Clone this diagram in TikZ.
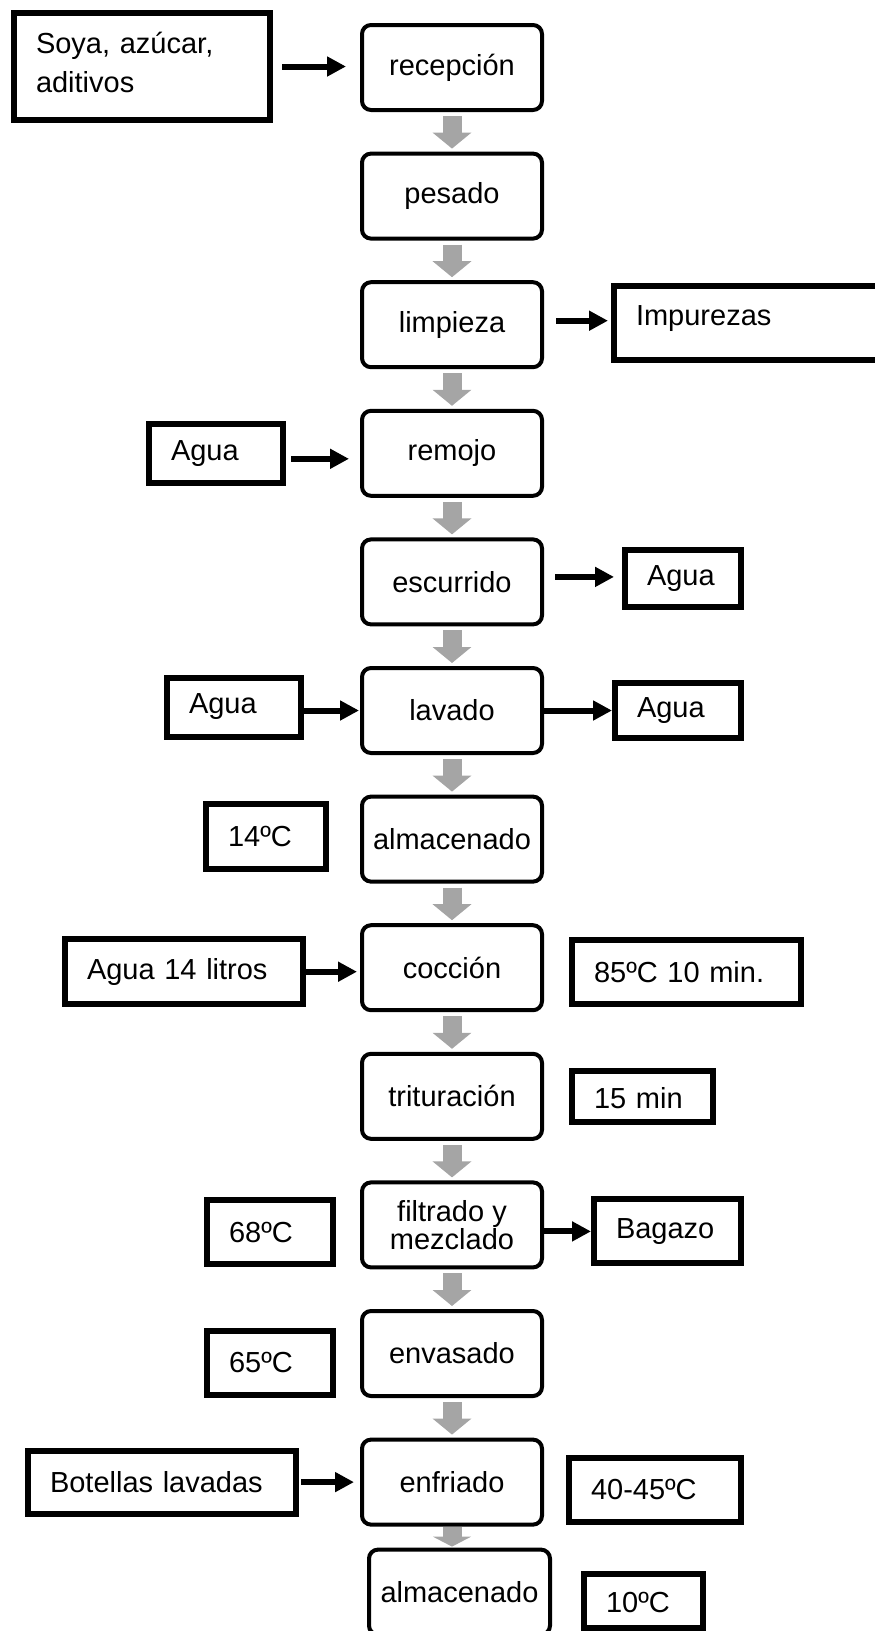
\documentclass[tikz,border=0pt]{standalone}
\usepackage{fontspec}
\setmainfont{Liberation Sans}
\usetikzlibrary{arrows.meta}
\definecolor{flowgray}{RGB}{165,165,165}
\tikzset{
    block/.style = {draw, rectangle, rounded corners=9pt, line width=4pt,
        minimum height=85pt,
        minimum width=180pt, inner sep=0pt, align=center},
    sidebox/.style = {draw, rectangle, line width=6pt,
        inner xsep=22pt, inner ysep=0pt, align=left},
    arrow/.style = {draw, line width=6pt, -{Triangle[width=19pt,length=19pt]}},
    flow/.style = {draw, flowgray, line width=19pt,
        -{Triangle[width=38pt,length=16pt]}, shorten <=4pt, shorten >=3pt}
}

\begin{document}
\begin{tikzpicture}[auto, node distance=128.6pt, x=1pt, y=-1pt,
        font=\fontsize{29}{39}\selectfont]
        \useasboundingbox (0,0) rectangle (875,1631);
        \node [block] (rec) at (452,67.5) {recepción};
        \node [sidebox, left of=rec, node distance=310pt, yshift=1pt, text width=212pt,
            minimum height=107pt, text height=22pt, text depth=49pt] (soya) {Soya, azúcar,\\aditivos};
        \draw[arrow, shorten <=9pt, shorten >=14pt] (soya.east) -- (soya.east -| rec.west);
        \node [block, below of=rec] (pes) {pesado};
        \draw[flow] (rec) -- (pes);
        \node [block, below of=pes] (lim) {limpieza};
        \draw[flow] (pes) -- (lim);
        \node [sidebox, right of=lim, node distance=312pt, yshift=2pt, text width=256pt,
            minimum height=74pt, text height=21pt, text depth=15pt] (imp) {Impurezas};
        \draw[arrow, shorten <=12pt, shorten >=3pt] ([yshift=4pt]lim.east) -- ([yshift=4pt]lim.east -| imp.west);
        \node [block, below of=lim] (rem) {remojo};
        \draw[flow] (lim) -- (rem);
        \node [sidebox, left of=rem, node distance=236pt, text width=90pt, minimum height=59pt] (agua1) {Agua};
        \draw[arrow, shorten <=5pt, shorten >=11pt] ([yshift=-5.5pt]agua1.east) -- ([yshift=-5.5pt]agua1.east -| rem.west);
        \node [block, below of=rem] (esc) {escurrido};
        \draw[flow] (rem) -- (esc);
        \node [sidebox, right of=esc, node distance=231pt, yshift=3.5pt, text width=72pt, minimum height=57pt] (agua2) {Agua};
        \draw[arrow, shorten <=11pt, shorten >=8pt] ([yshift=5pt]esc.east) -- ([yshift=5pt]esc.east -| agua2.west);
        \node [block, below of=esc] (lav) {lavado};
        \draw[flow] (esc) -- (lav);
        \node [sidebox, left of=lav, node distance=218pt, yshift=3.5pt, text width=90pt, minimum height=59pt] (agua3) {Agua};
        \draw[arrow, shorten >=1pt] (agua3.east |- lav.west) -- (lav.west);
        \node [sidebox, right of=lav, node distance=226pt, text width=82pt, minimum height=55pt] (agua4) {Agua};
        \draw[arrow] (lav.east) -- (lav.east -| agua4.west);
        \node [block, below of=lav] (alm) {almacenado};
        \draw[flow] (lav) -- (alm);
        \node [sidebox, left of=alm, node distance=186pt, yshift=2.5pt, text width=76pt, minimum height=65pt] (t14) {14ºC};
        \node [block, below of=alm] (coc) {cocción};
        \draw[flow] (alm) -- (coc);
        \node [sidebox, left of=coc, node distance=268pt, yshift=-4pt, text width=194pt, minimum height=65pt] (agua14) {Agua 14 litros};
        \draw[arrow, shorten >=3pt] (agua14.east) -- (agua14.east -| coc.west);
        \node [sidebox, right of=coc, node distance=234.5pt, yshift=-4.5pt, text width=185pt, minimum height=64pt] (t85) {85ºC 10 min.};
        \node [block, below of=coc] (tri) {trituración};
        \draw[flow] (coc) -- (tri);
        \node [sidebox, right of=tri, node distance=190.5pt, text width=97pt, minimum height=51pt,
            text height=30pt, text depth=6pt] (t15) {15 min};
        \node [block, below of=tri, font=\fontsize{29}{28}\selectfont] (fil) {filtrado y\\mezclado};
        \draw[flow] (tri) -- (fil);
        \node [sidebox, left of=fil, node distance=182pt, yshift=-7.5pt, text width=82pt, minimum height=64pt] (t68) {68ºC};
        \node [sidebox, right of=fil, node distance=215.5pt, yshift=-6.5pt, text width=103pt, minimum height=64pt] (bag) {Bagazo};
        \draw[arrow] (fil.east |- bag.west) -- (bag.west);
        \node [block, below of=fil] (env) {envasado};
        \draw[flow] (fil) -- (env);
        \node [sidebox, left of=env, node distance=182pt, yshift=-9pt, text width=82pt, minimum height=64pt] (t65) {65ºC};
        \node [block, below of=env] (enf) {enfriado};
        \draw[flow] (env) -- (enf);
        \node [sidebox, left of=enf, node distance=290pt, text width=224pt, minimum height=63pt] (bot) {Botellas lavadas};
        \draw[arrow, shorten <=2pt, shorten >=6pt] (bot) -- (enf);
        \node [sidebox, right of=enf, node distance=203pt, yshift=-7.5pt, text width=128pt, minimum height=64pt] (t4045) {40-45ºC};
        \node [block, below of=enf, node distance=110pt, xshift=7.5pt, minimum width=181pt] (alm2) {almacenado};
        \draw[flow, shorten <=0pt, shorten >=1pt, -{Triangle[width=38pt,length=10pt]}] (enf.south) -- (enf.south |- alm2.north);
        \node [sidebox, right of=alm2, node distance=184pt, yshift=-8.5pt, text width=75pt, minimum height=54pt,
            text height=30pt, text depth=6pt] (t10) {10ºC};
    \end{tikzpicture}
\end{document}
